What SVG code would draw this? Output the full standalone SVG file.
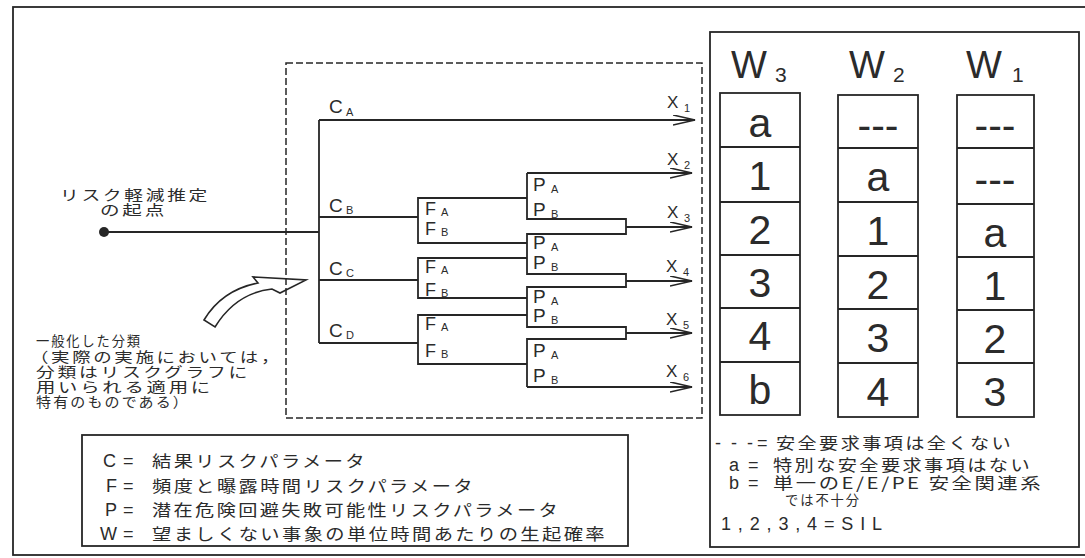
<svg xmlns="http://www.w3.org/2000/svg" width="1085" height="558" viewBox="0 0 1085 558">
<style>
.ln{fill:none;stroke:#262626;stroke-width:1.8}
.dash{fill:none;stroke:#262626;stroke-width:1.5;stroke-dasharray:7 3}
.t{font-family:"Liberation Sans",Arial,sans-serif;fill:#2b2b2b}
.j{font-family:"Noto Sans CJK JP","Liberation Sans",sans-serif;fill:#2b2b2b;font-size:16px;letter-spacing:2px}
.js{font-size:14px}
.lab{font-size:19px}
.sub{font-size:11px}
.cell{font-size:41px;text-anchor:middle}
</style>
<defs>
<marker id="ah" markerUnits="userSpaceOnUse" markerWidth="24" markerHeight="12" refX="22" refY="5" orient="auto">
<path d="M0,0 L22,5 L0,10" fill="none" stroke="#262626" stroke-width="1.6"/>
</marker>
</defs>
<rect width="1085" height="558" fill="#fff"/>
<rect x="13" y="7" width="1090" height="548" class="ln"/>

<g id="start">
<circle cx="104" cy="232" r="5" fill="#262626"/>
<text class="j js" x="60" y="200" textLength="150" lengthAdjust="spacingAndGlyphs">リスク軽減推定</text>
<text class="j js" x="100" y="215" textLength="67" lengthAdjust="spacingAndGlyphs">の起点</text>
</g>

<g id="scope">
<rect x="286" y="63" width="416" height="355" class="dash"/>
</g>

<g id="note">
<path d="M204,320 Q222,290 258,283 L253,277 L306,280 L280,293 L272,289 Q236,293 215,327 Z" fill="none" stroke="#262626" stroke-width="1.6"/>
<text class="j js" x="36" y="346" textLength="106" lengthAdjust="spacingAndGlyphs">一般化した分類</text>
<text class="j js" x="30" y="362" textLength="252" lengthAdjust="spacingAndGlyphs">（実際の実施においては，</text>
<text class="j js" x="36" y="377" textLength="214" lengthAdjust="spacingAndGlyphs">分類はリスクグラフに</text>
<text class="j js" x="36" y="392" textLength="177" lengthAdjust="spacingAndGlyphs">用いられる適用に</text>
<text class="j js" x="36" y="407" textLength="154" lengthAdjust="spacingAndGlyphs">特有のものである）</text>
</g>

<g id="connectors">
<path class="ln" d="M104,232 H319 M319,120 V343 M319,217 H418 M319,280 H418 M319,343 H418"/>
<path class="ln" d="M319,120 H695" marker-end="url(#ah)"/>
<path class="ln" d="M527,198 H418 V243 H527 M527,258 H418 V298 H527 M527,315 H418 V364 H527"/>
<path class="ln" d="M527,173 V219 H626 V234 H527 V274 H626 V287 H527 V327 H626 V339 H527 V387"/>
<path class="ln" d="M527,173 H692" marker-end="url(#ah)"/>
<path class="ln" d="M626,227 H692" marker-end="url(#ah)"/>
<path class="ln" d="M626,281 H692" marker-end="url(#ah)"/>
<path class="ln" d="M626,333 H692" marker-end="url(#ah)"/>
<path class="ln" d="M527,387 H692" marker-end="url(#ah)"/>
</g>

<g id="c-labels">
<text class="t lab" x="329" y="113">C</text><text class="t sub" x="346" y="116">A</text>
<text class="t lab" x="329" y="212">C</text><text class="t sub" x="346" y="214">B</text>
<text class="t lab" x="329" y="275">C</text><text class="t sub" x="346" y="277">C</text>
<text class="t lab" x="329" y="337">C</text><text class="t sub" x="346" y="339">D</text>
</g>

<g id="f-labels">
<text class="t" font-size="18" x="425" y="215">F</text><text class="t sub" x="441" y="216">A</text>
<text class="t" font-size="18" x="425" y="235">F</text><text class="t sub" x="441" y="236">B</text>
<text class="t" font-size="18" x="425" y="273">F</text><text class="t sub" x="441" y="274">A</text>
<text class="t" font-size="18" x="425" y="296">F</text><text class="t sub" x="441" y="297">B</text>
<text class="t" font-size="18" x="425" y="330">F</text><text class="t sub" x="441" y="331">A</text>
<text class="t" font-size="18" x="425" y="357">F</text><text class="t sub" x="441" y="358">B</text>
</g>

<g id="p-labels">
<text class="t lab" x="533" y="191">P</text><text class="t sub" x="551" y="193">A</text>
<text class="t lab" x="533" y="216">P</text><text class="t sub" x="551" y="218">B</text>
<text class="t lab" x="533" y="249">P</text><text class="t sub" x="551" y="251">A</text>
<text class="t lab" x="533" y="269">P</text><text class="t sub" x="551" y="271">B</text>
<text class="t lab" x="533" y="303">P</text><text class="t sub" x="551" y="305">A</text>
<text class="t lab" x="533" y="322">P</text><text class="t sub" x="551" y="324">B</text>
<text class="t lab" x="533" y="357">P</text><text class="t sub" x="551" y="359">A</text>
<text class="t lab" x="533" y="382">P</text><text class="t sub" x="551" y="384">B</text>
</g>

<g id="x-labels">
<text class="t" font-size="17" x="667" y="108">X</text><text class="t sub" x="684" y="112">1</text>
<text class="t" font-size="17" x="667" y="165">X</text><text class="t sub" x="684" y="169">2</text>
<text class="t" font-size="17" x="667" y="218">X</text><text class="t sub" x="684" y="222">3</text>
<text class="t" font-size="17" x="666" y="272">X</text><text class="t sub" x="683" y="276">4</text>
<text class="t" font-size="17" x="666" y="325">X</text><text class="t sub" x="683" y="329">5</text>
<text class="t" font-size="17" x="666" y="377">X</text><text class="t sub" x="683" y="381">6</text>
</g>

<g id="legend">
<rect x="82" y="435" width="546" height="111" class="ln"/>
<text class="t" font-size="18" x="103" y="467">C</text><text class="t" font-size="18" x="123" y="467">=</text>
<text class="j" x="152" y="467" textLength="215" lengthAdjust="spacingAndGlyphs">結果リスクパラメータ</text>
<text class="t" font-size="18" x="106" y="492">F</text><text class="t" font-size="18" x="123" y="492">=</text>
<text class="j" x="152" y="492" textLength="323" lengthAdjust="spacingAndGlyphs">頻度と曝露時間リスクパラメータ</text>
<text class="t" font-size="18" x="105" y="516">P</text><text class="t" font-size="18" x="123" y="516">=</text>
<text class="j" x="152" y="516" textLength="408" lengthAdjust="spacingAndGlyphs">潜在危険回避失敗可能性リスクパラメータ</text>
<text class="t" font-size="18" x="100" y="540">W</text><text class="t" font-size="18" x="123" y="540">=</text>
<text class="j" x="152" y="540" textLength="455" lengthAdjust="spacingAndGlyphs">望ましくない事象の単位時間あたりの生起確率</text>
</g>

<g id="w-panel">
<rect x="710" y="32" width="369" height="515" fill="#fff" class="ln"/>
<text class="t" font-size="38" x="731" y="78">W</text><text class="t" font-size="21" x="775" y="82">3</text>
<text class="t" font-size="38" x="849" y="78">W</text><text class="t" font-size="21" x="893" y="82">2</text>
<text class="t" font-size="38" x="966" y="78">W</text><text class="t" font-size="21" x="1012" y="82">1</text>
</g>

<g id="w3">
<rect x="720" y="93" width="80" height="322" class="ln"/>
<path class="ln" d="M720,147 H800 M720,202 H800 M720,255 H800 M720,308 H800 M720,362 H800"/>
<text class="t cell" x="760" y="137">a</text>
<text class="t cell" x="760" y="190">1</text>
<text class="t cell" x="760" y="244">2</text>
<text class="t cell" x="760" y="297">3</text>
<text class="t cell" x="760" y="350">4</text>
<text class="t cell" x="760" y="404">b</text>
</g>

<g id="w2">
<rect x="838" y="95" width="80" height="322" class="ln"/>
<path class="ln" d="M838,148 H918 M838,202 H918 M838,256 H918 M838,309 H918 M838,363 H918"/>
<text class="t cell" x="878" y="139">---</text>
<text class="t cell" x="878" y="191">a</text>
<text class="t cell" x="878" y="245">1</text>
<text class="t cell" x="878" y="299">2</text>
<text class="t cell" x="878" y="352">3</text>
<text class="t cell" x="878" y="406">4</text>
</g>

<g id="w1">
<rect x="957" y="95" width="77" height="322" class="ln"/>
<path class="ln" d="M957,148 H1034 M957,204 H1034 M957,257 H1034 M957,310 H1034 M957,363 H1034"/>
<text class="t cell" x="995" y="139">---</text>
<text class="t cell" x="995" y="193">---</text>
<text class="t cell" x="995" y="247">a</text>
<text class="t cell" x="995" y="300">1</text>
<text class="t cell" x="995" y="353">2</text>
<text class="t cell" x="995" y="406">3</text>
</g>

<g id="w-legend">
<text class="t" font-size="18" x="715" y="449" textLength="38" lengthAdjust="spacing">---</text><text class="t" font-size="18" x="757" y="449">=</text>
<text class="j" x="776" y="449" textLength="237" lengthAdjust="spacingAndGlyphs">安全要求事項は全くない</text>
<text class="t" font-size="18" x="729" y="471">a</text><text class="t" font-size="18" x="748" y="471">=</text>
<text class="j" x="773" y="471" textLength="259" lengthAdjust="spacingAndGlyphs">特別な安全要求事項はない</text>
<text class="t" font-size="18" x="729" y="489">b</text><text class="t" font-size="18" x="748" y="489">=</text>
<text class="j" x="773" y="489" textLength="270" lengthAdjust="spacingAndGlyphs">単一のE/E/PE 安全関連系</text>
<text class="j js" x="785" y="505" textLength="76" lengthAdjust="spacingAndGlyphs">では不十分</text>
<text class="t" font-size="18" x="721" y="530" textLength="161" lengthAdjust="spacing">1,2,3,4=SIL</text>
</g>
</svg>
